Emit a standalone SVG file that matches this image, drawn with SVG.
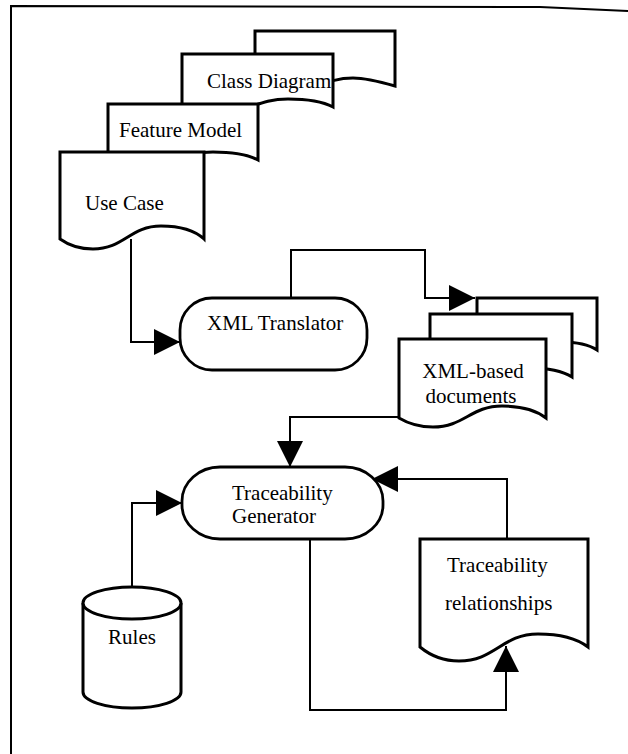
<svg xmlns="http://www.w3.org/2000/svg" width="628" height="754" viewBox="0 0 628 754">
<style>
.doc{fill:#fff;stroke:#000;stroke-width:3;stroke-linejoin:miter}
.proc{fill:#fff;stroke:#000;stroke-width:2.8}
.con{fill:none;stroke:#000;stroke-width:2}
.t{font-family:"Liberation Serif","Times New Roman",serif;font-size:21px;fill:#000}
.m{text-anchor:middle}
</style>
<defs>
<marker id="arr" viewBox="0 0 26 26" refX="26" refY="13" markerWidth="26" markerHeight="26" markerUnits="userSpaceOnUse" orient="auto">
<path d="M0,0 L26,13 L0,26 Z" fill="#000"/>
</marker>
</defs>
<rect width="628" height="754" fill="#fff"/>
<path d="M11,754 V6 L540,7 L628,11" fill="none" stroke="#000" stroke-width="2"/>

<g id="connectors">
<path class="con" d="M131,239 V342 H180" marker-end="url(#arr)"/>
<path class="con" d="M291,298 V250 H425 V298 H475" marker-end="url(#arr)"/>
<path class="con" d="M399,417 H290 V467" marker-end="url(#arr)"/>
<path class="con" d="M132,587 V503 H182" marker-end="url(#arr)"/>
<path class="con" d="M507,539 V479 H372" marker-end="url(#arr)"/>
<path class="con" d="M310,539 V710 H506 V646" marker-end="url(#arr)"/>
</g>

<g id="class-diagram">
<path class="doc" d="M255,31 H395 V86 Q367,78 353,78 C323,78 317,93 287,93 Q269,93 255,86 Z"/>
<path class="doc" d="M182,54 H333 V107 Q318,99 288,99 C256,99 249,113 217,113 Q197,113 182,107 Z"/>
<text class="t" x="207" y="88">Class Diagram</text>
</g>
<g id="feature-model">
<path class="doc" d="M108,104 H258 V160 Q243,152 213,152 C181,152 175,167 143,167 Q123,167 108,160 Z"/>
<text class="t" x="119" y="137">Feature Model</text>
</g>
<g id="use-case">
<path class="doc" d="M60,152 H204 V239 Q190,226 161,226 C130,226 124,249 93,249 Q74,249 60,239 Z"/>
<text class="t" x="85" y="210">Use Case</text>
</g>

<g id="xml-translator">
<rect class="proc" x="180" y="298" width="187" height="72" rx="32" ry="32"/>
<text class="t" x="207" y="330">XML Translator</text>
</g>

<g id="xml-documents">
<path class="doc" d="M477,298 H597 V350 Q585,342 561,342 C536,342 530,356 505,356 Q489,356 477,350 Z"/>
<path class="doc" d="M430,314 H572 V377 Q558,368 529,368 C499,368 493,385 463,385 Q444,385 430,377 Z"/>
<path class="doc" d="M399,339 H546 V418 Q531,406 502,406 C471,406 464,427 433,427 Q414,427 399,418 Z"/>
<text class="t m" x="473" y="378">XML-based</text>
<text class="t m" x="471" y="403">documents</text>
</g>

<g id="traceability-generator">
<rect class="proc" x="182" y="467" width="201" height="72" rx="38" ry="34"/>
<text class="t" x="232" y="500">Traceability</text>
<text class="t" x="232" y="523">Generator</text>
</g>

<g id="rules">
<path class="doc" d="M83,603 V692 A49,16 0 0 0 181,692 V603"/>
<ellipse class="doc" cx="132" cy="603" rx="49" ry="16"/>
<text class="t m" x="132" y="644">Rules</text>
</g>

<g id="traceability-relationships">
<path class="doc" d="M420,539 H588 V647 Q571,634 538,634 C502,634 495,661 459,661 Q437,661 420,647 Z"/>
<text class="t" x="447" y="572">Traceability</text>
<text class="t" x="445" y="610">relationships</text>
</g>
</svg>
